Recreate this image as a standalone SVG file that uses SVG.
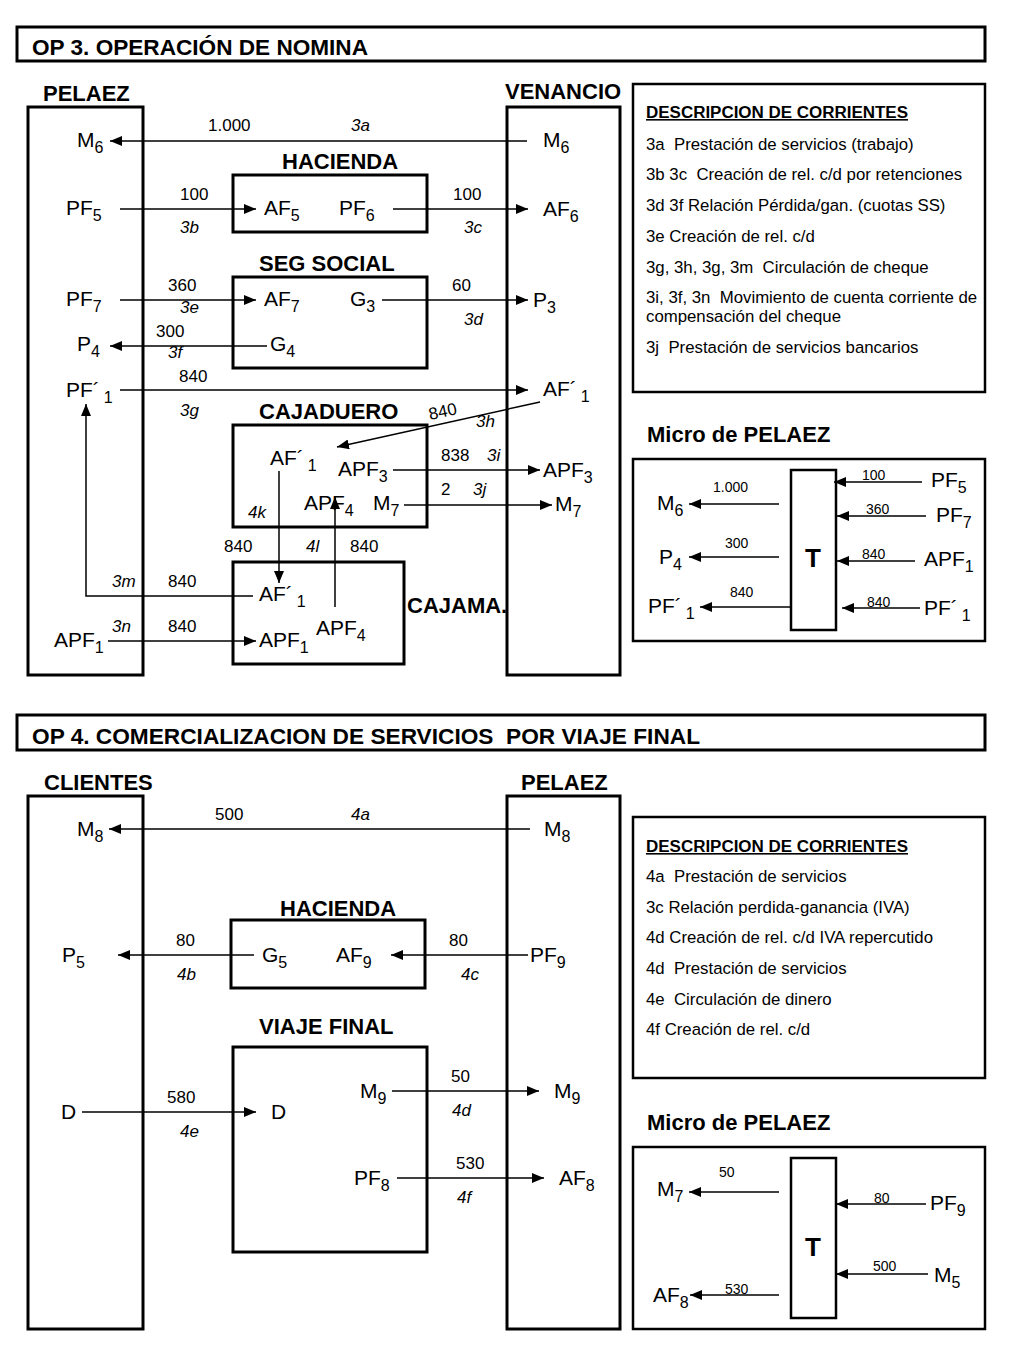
<svg xmlns="http://www.w3.org/2000/svg" width="1024" height="1365" viewBox="0 0 1024 1365">
<defs>
<style>
text{font-family:"Liberation Sans",Arial,Helvetica,sans-serif;fill:#000}
.lb{font-size:21px}
.sb{font-size:16px}
.nm{font-size:17px}
.it{font-size:17px;font-style:italic}
.hd{font-size:22px;font-weight:bold}
.ds{font-size:16.8px;white-space:pre}
.dh{font-size:16px;font-weight:bold;text-decoration:underline}
.mn{font-size:14px}
.tt{font-size:26px;font-weight:bold}
.pre{white-space:pre}
.bx{fill:none;stroke:#000;stroke-width:3}
.db{fill:none;stroke:#000;stroke-width:2.5}
.ln{fill:none;stroke:#000;stroke-width:1.5}
.ar{marker-end:url(#ah)}
</style>
<marker id="ah" markerWidth="12" markerHeight="10" refX="12" refY="5" orient="auto" markerUnits="userSpaceOnUse"><path d="M0,0 L12,5 L0,10 z" fill="#000"/></marker>
</defs>
<rect width="1024" height="1365" fill="#fff"/>

<!-- ===== OP 3 ===== -->
<g id="title3">
<rect class="bx" x="17" y="27" width="968" height="34"/>
<text class="hd" x="32" y="55" textLength="336" lengthAdjust="spacingAndGlyphs">OP 3. OPERACIÓN DE NOMINA</text>
</g>

<g id="pelaez3">
<text class="hd" x="43" y="101">PELAEZ</text>
<rect class="bx" x="28" y="107" width="115" height="568"/>
<text class="lb" x="77" y="147">M<tspan class="sb" dy="6">6</tspan></text>
<text class="lb" x="66" y="215">PF<tspan class="sb" dy="6">5</tspan></text>
<text class="lb" x="66" y="306">PF<tspan class="sb" dy="6">7</tspan></text>
<text class="lb" x="77" y="351">P<tspan class="sb" dy="6">4</tspan></text>
<text class="lb" x="66" y="397">PF´<tspan class="sb" dx="4" dy="6">1</tspan></text>
<text class="lb" x="54" y="647">APF<tspan class="sb" dy="6">1</tspan></text>
</g>

<g id="venancio3">
<text class="hd" x="505" y="99">VENANCIO</text>
<rect class="bx" x="507" y="107" width="113" height="568"/>
<text class="lb" x="543" y="147">M<tspan class="sb" dy="6">6</tspan></text>
<text class="lb" x="543" y="216">AF<tspan class="sb" dy="6">6</tspan></text>
<text class="lb" x="533" y="307">P<tspan class="sb" dy="6">3</tspan></text>
<text class="lb" x="543" y="396">AF´<tspan class="sb" dx="4" dy="6">1</tspan></text>
<text class="lb" x="543" y="477">APF<tspan class="sb" dy="6">3</tspan></text>
<text class="lb" x="555" y="511">M<tspan class="sb" dy="6">7</tspan></text>
</g>

<g id="hacienda3">
<text class="hd" x="282" y="169">HACIENDA</text>
<rect class="bx" x="233" y="175" width="194" height="57"/>
<text class="lb" x="264" y="215">AF<tspan class="sb" dy="6">5</tspan></text>
<text class="lb" x="339" y="215">PF<tspan class="sb" dy="6">6</tspan></text>
</g>

<g id="segsocial">
<text class="hd" x="259" y="271">SEG SOCIAL</text>
<rect class="bx" x="233" y="277" width="194" height="91"/>
<text class="lb" x="264" y="306">AF<tspan class="sb" dy="6">7</tspan></text>
<text class="lb" x="350" y="306">G<tspan class="sb" dy="6">3</tspan></text>
<text class="lb" x="270" y="351">G<tspan class="sb" dy="6">4</tspan></text>
</g>

<g id="cajaduero">
<text class="hd" x="259" y="419">CAJADUERO</text>
<rect class="bx" x="233" y="425" width="194" height="102"/>
<text class="lb" x="270" y="465">AF´<tspan class="sb" dx="4" dy="6">1</tspan></text>
<text class="lb" x="338" y="476">APF<tspan class="sb" dy="6">3</tspan></text>
<text class="lb" x="304" y="510">APF<tspan class="sb" dy="6">4</tspan></text>
<text class="lb" x="373" y="510">M<tspan class="sb" dy="6">7</tspan></text>
</g>

<g id="cajama">
<text class="hd" x="407" y="613">CAJAMA.</text>
<rect class="bx" x="233" y="562" width="171" height="102"/>
<text class="lb" x="259" y="601">AF´<tspan class="sb" dx="4" dy="6">1</tspan></text>
<text class="lb" x="259" y="647">APF<tspan class="sb" dy="6">1</tspan></text>
<text class="lb" x="316" y="635">APF<tspan class="sb" dy="6">4</tspan></text>
</g>

<g id="desc3">
<rect class="db" x="633" y="84" width="352" height="308"/>
<text class="dh" x="646" y="118" textLength="262" lengthAdjust="spacingAndGlyphs">DESCRIPCION DE CORRIENTES</text>
<text class="ds" x="646" y="150" xml:space="preserve">3a  Prestación de servicios (trabajo)</text>
<text class="ds" x="646" y="180" xml:space="preserve">3b 3c  Creación de rel. c/d por retenciones</text>
<text class="ds" x="646" y="211" xml:space="preserve">3d 3f Relación Pérdida/gan. (cuotas SS)</text>
<text class="ds" x="646" y="242" xml:space="preserve">3e Creación de rel. c/d</text>
<text class="ds" x="646" y="273" xml:space="preserve">3g, 3h, 3g, 3m  Circulación de cheque</text>
<text class="ds" x="646" y="303" xml:space="preserve">3i, 3f, 3n  Movimiento de cuenta corriente de</text>
<text class="ds" x="646" y="322" xml:space="preserve">compensación del cheque</text>
<text class="ds" x="646" y="353" xml:space="preserve">3j  Prestación de servicios bancarios</text>
</g>

<g id="micro3">
<text class="hd" x="647" y="442">Micro de PELAEZ</text>
<rect class="db" x="633" y="459" width="352" height="182"/>
<rect class="db" x="791" y="470" width="45" height="160"/>
<text class="tt" x="813" y="567" text-anchor="middle">T</text>
<text class="lb" x="657" y="510">M<tspan class="sb" dy="6">6</tspan></text>
<text class="lb" x="659" y="564">P<tspan class="sb" dy="6">4</tspan></text>
<text class="lb" x="648" y="613">PF´<tspan class="sb" dx="4" dy="6">1</tspan></text>
<text class="lb" x="931" y="487">PF<tspan class="sb" dy="6">5</tspan></text>
<text class="lb" x="936" y="522">PF<tspan class="sb" dy="6">7</tspan></text>
<text class="lb" x="924" y="566">APF<tspan class="sb" dy="6">1</tspan></text>
<text class="lb" x="924" y="615">PF´<tspan class="sb" dx="4" dy="6">1</tspan></text>
<line class="ln ar" x1="779" y1="504" x2="689" y2="504"/>
<line class="ln ar" x1="779" y1="557" x2="689" y2="557"/>
<line class="ln ar" x1="791" y1="607" x2="700" y2="607"/>
<line class="ln ar" x1="922" y1="482" x2="834" y2="482"/>
<line class="ln ar" x1="926" y1="516" x2="837" y2="516"/>
<line class="ln ar" x1="915" y1="561" x2="837" y2="561"/>
<line class="ln ar" x1="920" y1="608" x2="842" y2="608"/>
<text class="mn" x="713" y="492">1.000</text>
<text class="mn" x="725" y="548">300</text>
<text class="mn" x="730" y="597">840</text>
<text class="mn" x="862" y="480">100</text>
<text class="mn" x="866" y="514">360</text>
<text class="mn" x="862" y="559">840</text>
<text class="mn" x="867" y="607">840</text>
</g>

<g id="connectors3">
<line class="ln ar" x1="527" y1="141" x2="110" y2="141"/>
<text class="nm" x="208" y="131">1.000</text>
<text class="it" x="351" y="131">3a</text>

<line class="ln ar" x1="120" y1="209" x2="256" y2="209"/>
<text class="nm" x="180" y="200">100</text>
<text class="it" x="180" y="233">3b</text>

<line class="ln ar" x1="393" y1="209" x2="528" y2="209"/>
<text class="nm" x="453" y="200">100</text>
<text class="it" x="464" y="233">3c</text>

<line class="ln ar" x1="120" y1="300" x2="256" y2="300"/>
<text class="nm" x="168" y="291">360</text>
<text class="it" x="180" y="313">3e</text>

<line class="ln ar" x1="382" y1="300" x2="528" y2="300"/>
<text class="nm" x="452" y="291">60</text>
<text class="it" x="464" y="325">3d</text>

<line class="ln ar" x1="267" y1="346" x2="110" y2="346"/>
<text class="nm" x="156" y="337">300</text>
<text class="it" x="168" y="358">3f</text>

<line class="ln ar" x1="120" y1="390" x2="528" y2="390"/>
<text class="nm" x="179" y="382">840</text>
<text class="it" x="180" y="416">3g</text>

<line class="ln ar" x1="540" y1="402" x2="337" y2="447"/>
<text class="nm" x="430" y="420" transform="rotate(-12 430 420)">840</text>
<text class="it" x="476" y="427">3h</text>

<line class="ln ar" x1="393" y1="470" x2="540" y2="470"/>
<text class="nm" x="441" y="461">838</text>
<text class="it" x="487" y="461">3i</text>

<line class="ln ar" x1="404" y1="505" x2="552" y2="505"/>
<text class="nm" x="441" y="495">2</text>
<text class="it" x="473" y="495">3j</text>

<line class="ln ar" x1="279" y1="471" x2="279" y2="583"/>
<text class="it" x="248" y="518">4k</text>
<text class="nm" x="224" y="552">840</text>

<line class="ln ar" x1="335" y1="607" x2="335" y2="497"/>
<text class="it" x="306" y="552">4l</text>
<text class="nm" x="350" y="552">840</text>

<polyline class="ln ar" points="253,596 86,596 86,404"/>
<text class="it" x="112" y="587">3m</text>
<text class="nm" x="168" y="587">840</text>

<line class="ln ar" x1="108" y1="641" x2="256" y2="641"/>
<text class="it" x="112" y="632">3n</text>
<text class="nm" x="168" y="632">840</text>
</g>

<!-- ===== OP 4 ===== -->
<g id="title4">
<rect class="bx" x="17" y="715" width="968" height="35"/>
<text class="hd pre" x="32" y="744" textLength="668" lengthAdjust="spacingAndGlyphs" xml:space="preserve">OP 4. COMERCIALIZACION DE SERVICIOS  POR VIAJE FINAL</text>
</g>

<g id="clientes">
<text class="hd" x="44" y="790">CLIENTES</text>
<rect class="bx" x="28" y="796" width="115" height="533"/>
<text class="lb" x="77" y="836">M<tspan class="sb" dy="6">8</tspan></text>
<text class="lb" x="62" y="962">P<tspan class="sb" dy="6">5</tspan></text>
<text class="lb" x="61" y="1119">D</text>
</g>

<g id="pelaez4">
<text class="hd" x="521" y="790">PELAEZ</text>
<rect class="bx" x="507" y="796" width="113" height="533"/>
<text class="lb" x="544" y="836">M<tspan class="sb" dy="6">8</tspan></text>
<text class="lb" x="530" y="962">PF<tspan class="sb" dy="6">9</tspan></text>
<text class="lb" x="554" y="1098">M<tspan class="sb" dy="6">9</tspan></text>
<text class="lb" x="559" y="1185">AF<tspan class="sb" dy="6">8</tspan></text>
</g>

<g id="hacienda4">
<text class="hd" x="280" y="916">HACIENDA</text>
<rect class="bx" x="231" y="920" width="194" height="68"/>
<text class="lb" x="262" y="962">G<tspan class="sb" dy="6">5</tspan></text>
<text class="lb" x="336" y="962">AF<tspan class="sb" dy="6">9</tspan></text>
</g>

<g id="viajefinal">
<text class="hd" x="259" y="1034">VIAJE FINAL</text>
<rect class="bx" x="233" y="1047" width="194" height="205"/>
<text class="lb" x="271" y="1119">D</text>
<text class="lb" x="360" y="1098">M<tspan class="sb" dy="6">9</tspan></text>
<text class="lb" x="354" y="1185">PF<tspan class="sb" dy="6">8</tspan></text>
</g>

<g id="desc4">
<rect class="db" x="633" y="817" width="352" height="261"/>
<text class="dh" x="646" y="852" textLength="262" lengthAdjust="spacingAndGlyphs">DESCRIPCION DE CORRIENTES</text>
<text class="ds" x="646" y="882" xml:space="preserve">4a  Prestación de servicios</text>
<text class="ds" x="646" y="913" xml:space="preserve">3c Relación perdida-ganancia (IVA)</text>
<text class="ds" x="646" y="943" xml:space="preserve">4d Creación de rel. c/d IVA repercutido</text>
<text class="ds" x="646" y="974" xml:space="preserve">4d  Prestación de servicios</text>
<text class="ds" x="646" y="1005" xml:space="preserve">4e  Circulación de dinero</text>
<text class="ds" x="646" y="1035" xml:space="preserve">4f Creación de rel. c/d</text>
</g>

<g id="micro4">
<text class="hd" x="647" y="1130">Micro de PELAEZ</text>
<rect class="db" x="633" y="1147" width="352" height="182"/>
<rect class="db" x="791" y="1158" width="45" height="160"/>
<text class="tt" x="813" y="1256" text-anchor="middle">T</text>
<text class="lb" x="657" y="1196">M<tspan class="sb" dy="6">7</tspan></text>
<text class="lb" x="653" y="1302">AF<tspan class="sb" dy="6">8</tspan></text>
<text class="lb" x="930" y="1210">PF<tspan class="sb" dy="6">9</tspan></text>
<text class="lb" x="934" y="1282">M<tspan class="sb" dy="6">5</tspan></text>
<line class="ln ar" x1="779" y1="1192" x2="689" y2="1192"/>
<line class="ln ar" x1="779" y1="1295" x2="690" y2="1295"/>
<line class="ln ar" x1="926" y1="1204" x2="836" y2="1204"/>
<line class="ln ar" x1="928" y1="1274" x2="836" y2="1274"/>
<text class="mn" x="719" y="1177">50</text>
<text class="mn" x="725" y="1294">530</text>
<text class="mn" x="874" y="1203">80</text>
<text class="mn" x="873" y="1271">500</text>
</g>

<g id="connectors4">
<line class="ln ar" x1="530" y1="829" x2="109" y2="829"/>
<text class="nm" x="215" y="820">500</text>
<text class="it" x="351" y="820">4a</text>

<line class="ln ar" x1="254" y1="955" x2="118" y2="955"/>
<text class="nm" x="176" y="946">80</text>
<text class="it" x="177" y="980">4b</text>

<line class="ln ar" x1="528" y1="955" x2="391" y2="955"/>
<text class="nm" x="449" y="946">80</text>
<text class="it" x="461" y="980">4c</text>

<line class="ln ar" x1="82" y1="1112" x2="256" y2="1112"/>
<text class="nm" x="167" y="1103">580</text>
<text class="it" x="180" y="1137">4e</text>

<line class="ln ar" x1="392" y1="1091" x2="539" y2="1091"/>
<text class="nm" x="451" y="1082">50</text>
<text class="it" x="452" y="1116">4d</text>

<line class="ln ar" x1="397" y1="1178" x2="544" y2="1178"/>
<text class="nm" x="456" y="1169">530</text>
<text class="it" x="457" y="1203">4f</text>
</g>
</svg>
